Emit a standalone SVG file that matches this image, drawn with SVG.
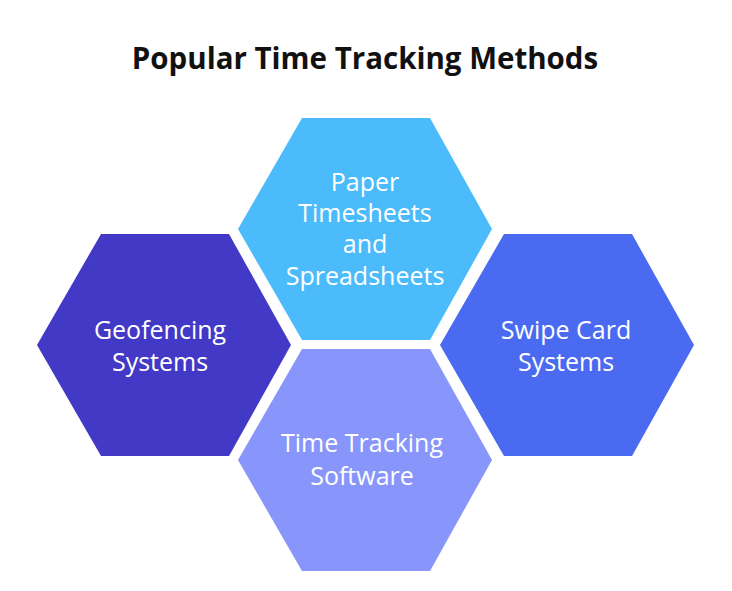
<svg xmlns="http://www.w3.org/2000/svg" width="732" height="591" viewBox="0 0 732 591">
  <style>
    .title { font-family: "Open Sans", "Noto Sans", "Liberation Sans", sans-serif; font-weight: bold; font-size: 29.5px; fill: #111111; text-anchor: middle; }
    .lbl { font-family: "Open Sans", "Noto Sans", "Liberation Sans", sans-serif; font-weight: 500; font-size: 25px; fill: #ffffff; text-anchor: middle; }
  </style>
  <defs>
    <polygon id="hex" points="-127,0 -63,-111 65,-111 127,0 65,111 -63,111"/>
  </defs>
  <rect width="732" height="591" fill="#ffffff"/>
  <text class="title" x="365" y="69">Popular Time Tracking Methods</text>
  <g id="node-paper">
    <use href="#hex" x="365" y="229" fill="#4BBBFC"/>
    <text class="lbl" x="365" y="191">Paper</text>
    <text class="lbl" x="365" y="222">Timesheets</text>
    <text class="lbl" x="365" y="253">and</text>
    <text class="lbl" x="365" y="285">Spreadsheets</text>
  </g>
  <g id="node-geofencing">
    <use href="#hex" x="164" y="345" fill="#4239C6"/>
    <text class="lbl" x="160" y="339">Geofencing</text>
    <text class="lbl" x="160" y="371">Systems</text>
  </g>
  <g id="node-software">
    <use href="#hex" x="365" y="460" fill="#8896FB"/>
    <text class="lbl" x="362" y="452">Time Tracking</text>
    <text class="lbl" x="362" y="485">Software</text>
  </g>
  <g id="node-swipe">
    <use href="#hex" x="567" y="345" fill="#4A6AF1"/>
    <text class="lbl" x="566" y="339">Swipe Card</text>
    <text class="lbl" x="566" y="371">Systems</text>
  </g>
  <g id="connectors"/>
</svg>
